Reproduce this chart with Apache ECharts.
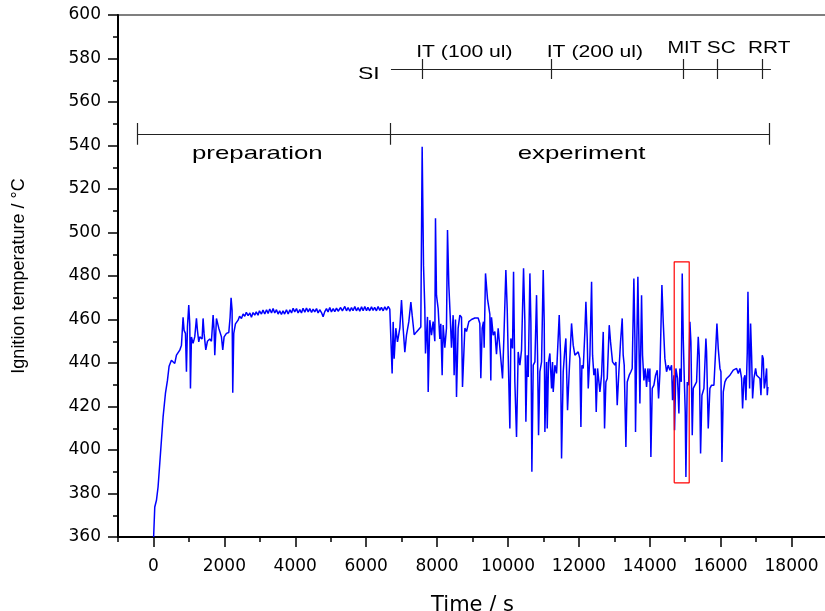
<!DOCTYPE html>
<html><head><meta charset="utf-8">
<script src="https://cdn.jsdelivr.net/npm/echarts@6/dist/echarts.min.js"></script>
<style>html,body{margin:0;padding:0;background:#fff}#c{width:825px;height:611px}</style>
</head><body><div id="c"></div>
<script>
// ---- data: [time (s), temperature (°C)] ----
const startup = [[5,360],[37,373.8],[85,376.9],[130,383],[178,393.8],[225,404.5],[272,415.2],[338,426],[395,432],[441,438.5],[507,441.3],[560,440.5],[601,439.8],[649,443.6],[700,443],[742,445.9],[790,448.2],[836,461],[864,455],[903,453.6],[931,436],[959,456.6],[996,466.6],[1024,458],[1044,428.3],[1072,452],[1118,449],[1165,452],[1213,460.5],[1241,455],[1278,449.7],[1307,452],[1372,451],[1400,460.5],[1428,453.6],[1476,446],[1523,450],[1588,451],[1636,450],[1683,462],[1711,455],[1730,443.6],[1777,460.5],[1843,456],[1918,452],[1955,446],[1993,452],[2059,453.6],[2125,454],[2162,461],[2190,470],[2218,464.3],[2237,426.3],[2265,453.6],[2313,458],[2388,459.7],[2430,461.5],[2482,460.5],[2530,462.5],[2576,461.5],[2620,463.3],[2670,461.8],[2720,463],[2764,461],[2810,463.2],[2858,462]];
const plateau = [[2900,463.5],[2950,462],[2990,464],[3046,462.5],[3090,464.3],[3140,462.5],[3190,464.5],[3234,462.8],[3280,464.8],[3330,463],[3375,465],[3422,463],[3470,464.5],[3515,462.5],[3560,464],[3610,462.3],[3655,464],[3700,462.5],[3752,464.5],[3800,462.5],[3850,464.5],[3895,463],[3940,465.2],[3985,463.5],[4035,465],[4080,463],[4128,464.5],[4175,463],[4220,465.2],[4270,463.3],[4316,465.3],[4365,463.5],[4410,465],[4460,463.2],[4504,464.8],[4550,463.5],[4600,465],[4645,463],[4690,464.5],[4740,463.2],[4786,461.3],[4830,463.5],[4880,465],[4925,463.5],[4974,465.5],[5020,463.5],[5070,465],[5115,463.6],[5163,465.2],[5210,463.8],[5280,465.5],[5330,464],[5398,466],[5445,464],[5490,465.5],[5540,463.8],[5586,465.5],[5630,464],[5680,466],[5725,464],[5774,465.5],[5820,463.8],[5870,465.8],[5915,464],[5962,466],[6010,464],[6050,465.6],[6100,464],[6150,465.8],[6195,464.2],[6240,465.6],[6290,464],[6338,466],[6385,464.2],[6430,465.6],[6480,464],[6526,465.8],[6575,464.3],[6620,466],[6667,464.8],[6715,465.5]];
const experimentA = [[6733,435.2],[6762,458.9],[6790,442],[6837,456],[6884,449.7],[6950,456],[6997,468.9],[7044,456],[7091,445],[7138,452.8],[7204,459],[7261,468],[7298,462],[7355,453],[7420,454.3],[7467,455],[7542,456.6],[7580,539.4],[7618,485],[7655,465],[7674,444.4],[7730,461.2],[7750,426.7],[7796,459.7],[7843,452.8],[7890,459],[7937,450],[7956,506.5],[7984,471.2],[8031,465],[8078,451],[8106,458],[8144,434.4],[8172,457.5],[8219,447],[8266,456],[8295,501.1],[8332,475.8],[8370,462],[8407,447],[8454,462],[8482,434.4],[8520,460],[8549,424.4],[8595,456],[8643,462],[8690,461],[8718,429],[8784,456],[8831,454.5],[8897,459],[8972,460],[9066,460.7],[9160,460.7],[9207,458.2],[9235,433],[9273,456],[9310,459],[9329,447],[9367,481.2],[9423,469.5],[9489,462.5],[9517,432],[9536,461],[9583,452.8],[9630,454.5],[9677,444],[9724,456],[9772,456.6]];
const experimentB = [[9847,432.9],[9885,451.3],[9941,482.7],[9979,465],[10007,443.6],[10054,409.9],[10082,451.3],[10129,446.7],[10158,482],[10195,431.3],[10242,406],[10289,445.1],[10336,439],[10383,445.9],[10440,483.5],[10477,459],[10506,413],[10543,443.6],[10572,433.6],[10619,481.2],[10647,459],[10675,390],[10713,439],[10760,440.5],[10807,471.2],[10835,443.6],[10863,406.8],[10901,436],[10948,440.5],[10995,482.7],[11023,459],[11042,408.3],[11089,440.5],[11108,409.9],[11145,440.5],[11183,444.4],[11230,428.3],[11258,440.5],[11277,426.7],[11324,439],[11371,435.2],[11446,462],[11484,443.6],[11512,396.1],[11559,436],[11606,446.7],[11634,451.3],[11681,418.3],[11728,436],[11794,458.2],[11841,448.2],[11888,443.6],[11935,443.6],[11982,445.1],[12029,442],[12058,410.6],[12086,439],[12124,437.5],[12170,454.3],[12199,468.1],[12236,451.3],[12265,428.3],[12312,443.6],[12359,477.3],[12387,443.6],[12424,434.4],[12462,437.5],[12490,417.5],[12528,437.5],[12575,437.5],[12594,426.7],[12641,434.4],[12688,454.3],[12725,409.9],[12763,431.3],[12801,432.9],[12857,457.4]];
const experimentC = [[12894,449.7],[12950,440.5],[12988,441.3],[13016,439],[13045,440.5],[13082,420.6],[13129,436],[13176,449.7],[13223,460.5],[13251,443.6],[13280,439],[13327,401.4],[13364,431.3],[13421,434.4],[13468,436],[13505,437.5],[13552,478.9],[13581,451.3],[13599,408.3],[13637,451.3],[13665,479.6],[13693,451.3],[13722,421.4],[13769,471.2],[13797,443.6],[13835,432],[13872,437.5],[13910,429],[13947,437.5],[13985,431.3],[14004,437.5],[14032,396.8],[14070,428.3],[14117,429.8],[14164,434.4],[14211,436.7],[14249,423.7],[14286,435.2],[14343,475.8],[14380,459],[14427,442],[14474,436],[14521,439],[14568,436.7],[14615,439],[14643,422.9],[14681,434.4],[14700,409.1],[14737,437.5],[14784,432.9],[14822,416.8],[14850,437.5],[14888,431.3],[14916,481.2],[14945,451.3],[14982,428.3],[15001,417.5],[15020,387.6],[15058,431.3],[15096,429.8],[15133,459]];
const experimentD = [[15161,449.7],[15199,406.8],[15227,428.3],[15274,427.5],[15321,431.3],[15368,452],[15396,443.6],[15434,398.4],[15472,425.2],[15528,428.3],[15584,451.3],[15603,445.1],[15650,409.9],[15697,428.3],[15744,429.8],[15810,429.8],[15866,448.2],[15895,458.2],[15932,446.7],[15980,437.5],[16008,436],[16036,394.5],[16074,426.7],[16121,431.3],[16168,432.9],[16215,433.6],[16262,434.4],[16309,433.6],[16356,436.7],[16403,436],[16450,437.5],[16497,435.2],[16544,437.5],[16591,432.9],[16619,419.1],[16657,432.9],[16685,434.4],[16713,422.9],[16751,445.1],[16770,472.7],[16798,443.6],[16817,428.3],[16845,458.2],[16873,443.6],[16901,423.7],[16939,432.9],[16986,437.5],[17014,434.4],[17061,433.6],[17108,432.9],[17137,425.2],[17174,443.6],[17202,442],[17231,428.3],[17259,431.3],[17296,437.5],[17315,425.2],[17334,429]];

const xMajorTicks = [0,2000,4000,6000,8000,10000,12000,14000,16000,18000];

// annotation brackets (data units)
const siLevel = 575.2, siStart = 6700, siEnd = 17418, siHalf = 4.6;
const siMarks = [7570, 11215, 14943, 15903, 17173];
const phaseLevel = 545.3, phaseStart = -451, phaseEnd = 17370, phaseHalf = 5;
const phaseMarks = [-451, 6676, 17370];
const boxT = [14690, 15113], boxTemp = [384.9, 486.5];

// annotation texts: [text, time, temp, fontSize, scaleX]
const annoTexts = [
  ['SI', 6075, 572.9, 17, 1.35],
  ['IT (100 ul)', 8770, 582.8, 16, 1.32],
  ['IT (200 ul)', 12452, 582.8, 16, 1.32],
  ['MIT', 14983, 584.6, 16, 1.25],
  ['SC', 16016, 584.6, 16, 1.3],
  ['RRT', 17370, 584.6, 16, 1.3],
  ['preparation', 2929, 536.2, 19, 1.36],
  ['experiment', 12077, 536.2, 19, 1.36]
];

const series = startup.concat(plateau, experimentA, experimentB, experimentC, experimentD);

const bracketLines = [];
bracketLines.push({coords: [[siStart, siLevel], [siEnd, siLevel]]});
siMarks.forEach(t => bracketLines.push({coords: [[t, siLevel - siHalf], [t, siLevel + siHalf]]}));
bracketLines.push({coords: [[phaseStart, phaseLevel], [phaseEnd, phaseLevel]]});
phaseMarks.forEach(t => bracketLines.push({coords: [[t, phaseLevel - phaseHalf], [t, phaseLevel + phaseHalf]]}));

const boxLine = [[boxT[0], boxTemp[0]], [boxT[0], boxTemp[1]], [boxT[1], boxTemp[1]], [boxT[1], boxTemp[0]], [boxT[0], boxTemp[0]]];

const chart = echarts.init(document.getElementById('c'), null, {renderer: 'canvas'});
const tickFont = 'DejaVu Sans';
const plain = v => String(v);
chart.setOption({
  animation: false,
  backgroundColor: '#fff',
  grid: {left: 118, right: -2, top: 15, bottom: 74, show: true, borderColor: '#000', borderWidth: 1.2,
    containLabel: false, outerBoundsMode: 'none'},
  xAxis: [{
    type: 'value', min: -1000, max: 19000, interval: 1000,
    name: 'Time / s', nameLocation: 'middle', nameGap: 58,
    nameTextStyle: {fontFamily: tickFont, fontSize: 21, color: '#000'},
    axisLine: {show: true, onZero: false, lineStyle: {color: '#000', width: 2}},
    axisTick: {show: true, inside: false, length: 10, customValues: xMajorTicks, lineStyle: {color: '#000', width: 1.5}},
    axisLabel: {show: true, customValues: xMajorTicks, formatter: plain, margin: 21, fontFamily: tickFont, fontSize: 17, color: '#000'},
    splitLine: {show: false}
  }, {
    type: 'value', min: -1000, max: 19000, interval: 1000, position: 'bottom',
    axisLine: {show: false, onZero: false},
    axisTick: {show: true, length: 5, lineStyle: {color: '#000', width: 1.5}},
    axisLabel: {show: false},
    splitLine: {show: false}
  }],
  yAxis: {
    type: 'value', min: 360, max: 600, interval: 20,
    name: 'Ignition temperature / °C', nameLocation: 'middle', nameGap: 90, nameRotate: 90,
    nameTextStyle: {fontFamily: 'Liberation Sans', fontSize: 18, color: '#000'},
    axisLine: {show: true, onZero: false, lineStyle: {color: '#000', width: 2}},
    axisTick: {show: true, length: 10, lineStyle: {color: '#000', width: 1.5}},
    minorTick: {show: true, splitNumber: 2, length: 5, lineStyle: {color: '#000', width: 1.5}},
    axisLabel: {margin: 17, formatter: plain, fontFamily: tickFont, fontSize: 17, color: '#000'},
    splitLine: {show: false}
  },
  series: [{
    type: 'line', data: series, showSymbol: false, symbol: 'none',
    lineStyle: {color: '#0000ff', width: 1.5}, z: 3
  }, {
    type: 'lines', coordinateSystem: 'cartesian2d', data: bracketLines,
    lineStyle: {color: '#222', width: 1.2, opacity: 1}, z: 4, silent: true
  }, {
    type: 'line', data: boxLine, showSymbol: false, symbol: 'none',
    lineStyle: {color: '#ff0000', width: 1.2}, z: 5, silent: true
  }]
});

const graphics = annoTexts.map(a => {
  const p = chart.convertToPixel({gridIndex: 0}, [a[1], a[2]]);
  return {
    type: 'text', x: p[0], y: p[1], scaleX: a[4], scaleY: 1, z: 10,
    style: {text: a[0], fill: '#000', font: a[3] + 'px "Liberation Sans", Arial, sans-serif',
      align: 'center', verticalAlign: 'middle', textAlign: 'center', textVerticalAlign: 'middle'}
  };
});
chart.setOption({graphic: graphics});
</script>
</body></html>
